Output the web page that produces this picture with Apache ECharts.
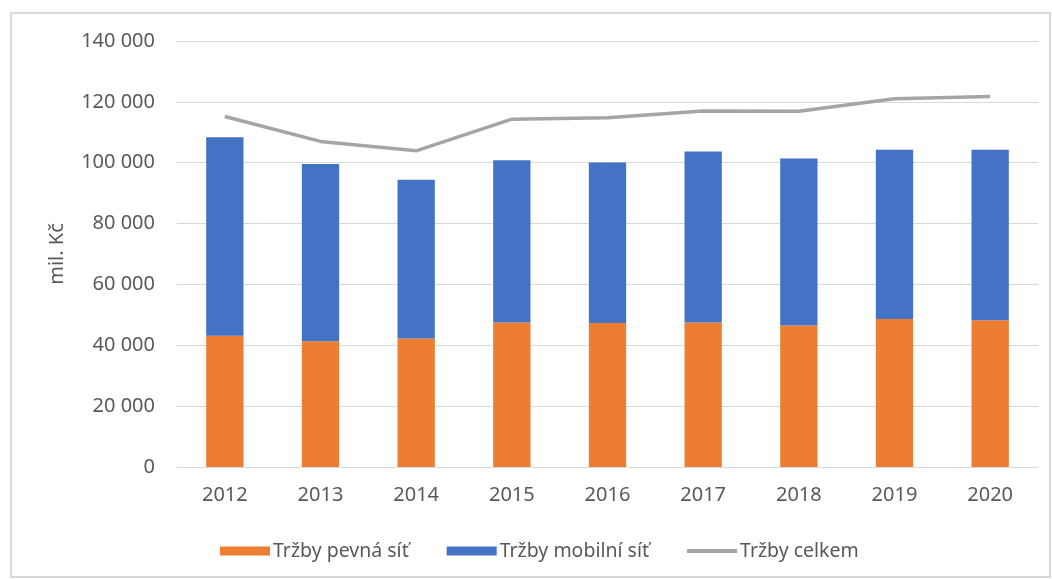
<!DOCTYPE html>
<html>
<head>
<meta charset="utf-8">
<title>Tržby</title>
<script src="https://cdn.jsdelivr.net/npm/echarts@6/dist/echarts.min.js"></script>
<style>
  html, body { margin: 0; padding: 0; background: #ffffff; }
  #chart { width: 1052px; height: 579px; }
</style>
</head>
<body>
<div id="chart"></div>
<script>
// Categories (years)
const years = ['2012', '2013', '2014', '2015', '2016', '2017', '2018', '2019', '2020'];

// Revenue, mil. Kč
const trzbyPevna = [43100, 41300, 42200, 47500, 47300, 47500, 46500, 48600, 48200];
const trzbyMobilni = [65300, 58300, 52200, 53300, 52800, 56200, 54900, 55700, 56100];
const trzbyCelkem = [115200, 107000, 103900, 114300, 114800, 117000, 116900, 121000, 121800];

// Legend / series names
const seriesNames = ['Tržby pevná síť', 'Tržby mobilní síť', 'Tržby celkem'];

// Value axis
const axisMin = 0;
const axisMax = 140000;
const axisStep = 20000;
const axisName = 'mil. Kč';

const FONT = '"Noto Sans", "Open Sans", sans-serif';
const TEXT_GREY = '#595959';
const GRID_GREY = '#D9D9D9';
const LINE_GREY = '#A5A5A5';

function withSpaces(v) {
  return String(v).replace(/\B(?=(\d{3})+(?!\d))/g, ' ');
}

const chart = echarts.init(document.getElementById('chart'), null, { renderer: 'canvas' });

chart.setOption({
  backgroundColor: '#ffffff',
  animation: false,
  textStyle: { fontFamily: FONT },
  graphic: [{
    type: 'rect',
    shape: { x: 11, y: 13, width: 1039, height: 564 },
    style: { fill: 'none', stroke: GRID_GREY, lineWidth: 2 },
    silent: true,
    z: -10
  }],
  grid: { left: 177, right: 14, top: 41, bottom: 112, containLabel: false },
  legend: {
    data: [
      { name: seriesNames[0], icon: 'rect' },
      { name: seriesNames[1], icon: 'rect' },
      // thin bar standing in for the line swatch
      { name: seriesNames[2], icon: 'path://M0,0 H50 V4 H0 Z', itemStyle: { color: LINE_GREY } }
    ],
    left: 215,
    top: 536,
    itemWidth: 50,
    itemHeight: 9,
    itemGap: 38,
    symbolKeepAspect: true,
    textStyle: { fontFamily: FONT, fontSize: 19.5, color: TEXT_GREY, padding: [0, 0, 0, -2] }
  },
  xAxis: {
    type: 'category',
    data: years,
    axisLine: { show: true, lineStyle: { color: GRID_GREY, width: 1 } },
    axisTick: { show: false },
    axisLabel: { color: TEXT_GREY, fontSize: 20, fontFamily: FONT, margin: 18 }
  },
  yAxis: {
    type: 'value',
    min: axisMin,
    max: axisMax,
    interval: axisStep,
    name: axisName,
    nameLocation: 'middle',
    nameGap: 110,
    nameRotate: 90,
    nameTextStyle: { color: TEXT_GREY, fontSize: 20, fontFamily: FONT },
    axisLine: { show: false },
    axisTick: { show: false },
    splitLine: { lineStyle: { color: GRID_GREY, width: 1 } },
    axisLabel: {
      color: TEXT_GREY,
      fontSize: 20,
      fontFamily: FONT,
      margin: 22,
      formatter: withSpaces
    }
  },
  series: [
    {
      name: seriesNames[0],
      type: 'bar',
      stack: 'trzby',
      data: trzbyPevna,
      barWidth: '39%',
      itemStyle: { color: '#ED7D31' }
    },
    {
      name: seriesNames[1],
      type: 'bar',
      stack: 'trzby',
      data: trzbyMobilni,
      barWidth: '39%',
      itemStyle: { color: '#4472C4' }
    },
    {
      name: seriesNames[2],
      type: 'line',
      data: trzbyCelkem,
      symbol: 'none',
      showSymbol: false,
      lineStyle: { color: LINE_GREY, width: 3.5 },
      itemStyle: { color: LINE_GREY },
      z: 5
    }
  ]
});
</script>
</body>
</html>
